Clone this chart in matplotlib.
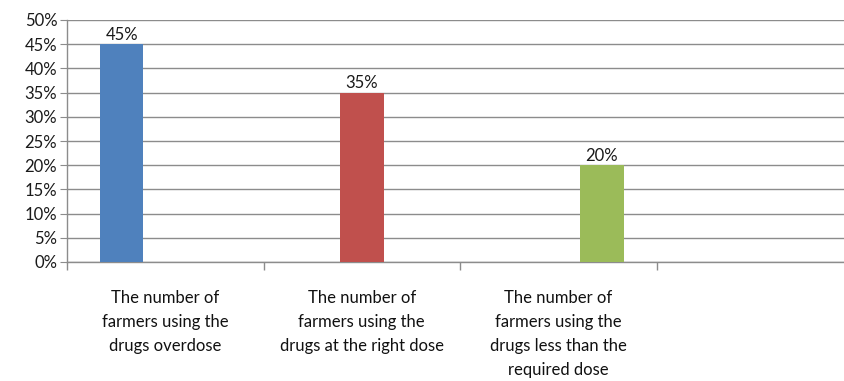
import matplotlib
matplotlib.use("Agg")
import matplotlib.pyplot as plt
import numpy as np
from matplotlib.ticker import PercentFormatter, FixedLocator

categories = [
    "The number of\nfarmers using the\ndrugs overdose",
    "The number of\nfarmers using the\ndrugs at the right dose",
    "The number of\nfarmers using the\ndrugs less than the\nrequired dose",
    "",
]
series_values = [45, 35, 20]
series_colors = ["#4F81BD", "#C0504D", "#9BBB59"]
value_labels = ["45%", "35%", "20%"]
y_ticks = list(range(0, 55, 5))

plt.rcParams['font.family'] = ['Lato', 'DejaVu Sans']

fig = plt.figure(figsize=(8.44, 3.81), dpi=100)
ax = fig.add_axes([67/844, 1 - 262/381, 1 - 67/844, (262 - 20)/381])

n_series = len(series_values)
gap = 1.5
w = 1.0 / (n_series + gap)
for i, (v, c, lab) in enumerate(zip(series_values, series_colors, value_labels)):
    x = i + gap / 2 * w + (i + 0.5) * w
    ax.bar(x, v, width=w, color=c, zorder=3)
    ax.text(x, v + 0.3, lab, ha='center', va='bottom', fontsize=12, color='#1a1a1a', zorder=4)

ax.set_xlim(0, (844 - 67) / 196.5)
ax.set_ylim(0, 50)
ax.set_yticks(y_ticks)
ax.yaxis.set_major_formatter(PercentFormatter(decimals=0))
ax.grid(axis='y', color='#8c8c8c', linewidth=1.0, zorder=0)

centers = np.arange(len(categories)) + 0.5
ax.set_xticks(centers)
ax.set_xticklabels(categories, fontsize=12, color='#111111', linespacing=1.62)
ax.tick_params(axis='x', which='major', length=0, pad=20)
ax.xaxis.set_minor_locator(FixedLocator(np.arange(len(categories) + 1)))
ax.tick_params(axis='x', which='minor', length=6, color='#8c8c8c', width=1)
ax.tick_params(axis='y', length=5, color='#8c8c8c', labelsize=12, labelcolor='#1a1a1a', pad=2)

for s in ['top', 'right']:
    ax.spines[s].set_visible(False)
for s in ['left', 'bottom']:
    ax.spines[s].set_color('#8c8c8c')
    ax.spines[s].set_linewidth(1.0)

fig.savefig("out.png", dpi=100)
